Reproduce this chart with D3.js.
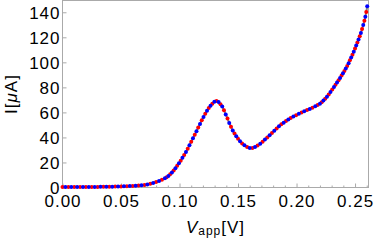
<!DOCTYPE html>
<html>
<head>
<meta charset="utf-8">
<script src="https://cdn.jsdelivr.net/npm/d3@7"></script>
<style>
  body { margin: 0; background: #fff; }
  svg text { font-family: "Liberation Sans", Arial, sans-serif; fill: #000; }
</style>
</head>
<body>
<div id="chart"></div>
<script>
// data: V in volts, I in microamps
const redV = [0, 0.005, 0.01, 0.015, 0.02, 0.025, 0.03, 0.035, 0.04, 0.045,
  0.05, 0.055, 0.06, 0.065, 0.07, 0.075, 0.08, 0.085, 0.089, 0.092,
  0.095, 0.098, 0.101, 0.104, 0.107, 0.110, 0.113, 0.116, 0.119, 0.122,
  0.125, 0.128, 0.1316, 0.135, 0.138, 0.141, 0.144, 0.147, 0.150, 0.1535,
  0.1578, 0.1623, 0.1667, 0.171, 0.175, 0.179, 0.183, 0.187, 0.191, 0.195,
  0.1996, 0.2043, 0.209, 0.2136, 0.218, 0.2215, 0.2245, 0.2275, 0.2305, 0.2333,
  0.2359, 0.2385, 0.2409, 0.2433, 0.2456, 0.2478, 0.25, 0.252, 0.254, 0.256,
  0.258, 0.2596];
const redI = [0.3, 0.3, 0.3, 0.35, 0.4, 0.4, 0.45, 0.5, 0.6, 0.7,
  0.8, 1.0, 1.2, 1.6, 2.0, 3.0, 4.3, 6.2, 8.2, 10.5,
  13.5, 17.3, 21.4, 26.0, 31.0, 36.5, 42.2, 47.9, 53.7, 59.0,
  63.5, 67.0, 69.2, 66.6, 61.8, 55.2, 48.5, 43.2, 39.0, 35.2,
  32.4, 31.6, 33.5, 36.6, 40.0, 43.6, 47.2, 50.5, 53.1, 55.5,
  57.8, 60.0, 61.9, 63.8, 65.9, 68.2, 71.0, 74.4, 78.2, 82.1,
  85.7, 89.4, 93.1, 97.1, 101.6, 106.1, 111.0, 115.8, 120.9, 126.6,
  133.2, 140.3];

const blueV = [0.0025, 0.0075, 0.0125, 0.0175, 0.0225, 0.0275, 0.0325, 0.0375, 0.0425, 0.0475,
  0.0525, 0.0575, 0.0625, 0.0675, 0.0725, 0.0775, 0.0825, 0.0875, 0.0905, 0.0935,
  0.0965, 0.0995, 0.1025, 0.1055, 0.1085, 0.1115, 0.1145, 0.1175, 0.1205, 0.1235,
  0.1265, 0.1298, 0.1334, 0.1365, 0.1395, 0.1425, 0.1455, 0.1485, 0.1517, 0.1555,
  0.160, 0.1645, 0.169, 0.173, 0.177, 0.181, 0.185, 0.189, 0.193, 0.1973,
  0.202, 0.2066, 0.2113, 0.216, 0.220, 0.223, 0.226, 0.229, 0.232, 0.2346,
  0.2372, 0.2397, 0.2421, 0.2445, 0.2467, 0.2489, 0.251, 0.253, 0.255, 0.257,
  0.2588, 0.2604];
const blueI = [0.3, 0.3, 0.35, 0.35, 0.4, 0.45, 0.5, 0.55, 0.65, 0.75,
  0.9, 1.1, 1.4, 1.8, 2.45, 3.6, 5.2, 7.4, 9.2, 12.0,
  15.4, 19.3, 23.7, 28.4, 33.7, 39.3, 45.0, 50.8, 56.4, 61.4,
  65.4, 68.6, 68.4, 64.7, 58.4, 51.6, 45.6, 41.0, 37.0, 33.7,
  31.6, 32.3, 35.0, 38.3, 41.8, 45.4, 49.0, 51.8, 54.3, 56.7,
  58.9, 60.9, 62.8, 64.9, 67.0, 69.5, 72.6, 76.2, 80.2, 83.9,
  87.5, 91.2, 95.1, 99.3, 103.8, 108.5, 113.4, 118.3, 123.5, 129.8,
  136.5, 144.8];

const xTicks = [0, 0.05, 0.10, 0.15, 0.20, 0.25];
const xMinorTicks = [0.01, 0.02, 0.03, 0.04, 0.06, 0.07, 0.08, 0.09, 0.11, 0.12, 0.13, 0.14,
  0.16, 0.17, 0.18, 0.19, 0.21, 0.22, 0.23, 0.24, 0.26];
const yTicks = [0, 20, 40, 60, 80, 100, 120, 140];

const width = 374;
const height = 243;
const plot = { left: 62.5, right: 368.5, top: 0.5, bottom: 187.5 };

const svg = d3.select('#chart')
  .append('svg')
  .attr('width', width)
  .attr('height', height);

const x = d3.scaleLinear().domain([0, 0.2615]).range([plot.left, plot.right]);
const y = d3.scaleLinear().domain([0, 149.4]).range([plot.bottom, plot.top]);

const frameColor = '#aaaaaa';

// frame
svg.append('rect')
  .attr('x', plot.left)
  .attr('y', plot.top)
  .attr('width', plot.right - plot.left)
  .attr('height', plot.bottom - plot.top)
  .attr('fill', 'none')
  .attr('stroke', frameColor)
  .attr('stroke-width', 1);

// bottom axis, ticks point inward
const xAxis = svg.append('g')
  .attr('transform', `translate(0, ${plot.bottom})`)
  .call(d3.axisBottom(x).tickValues(xTicks).tickSize(-4).tickPadding(7.5)
    .tickFormat(d3.format('.2f')));
svg.append('g')
  .attr('transform', `translate(0, ${plot.bottom})`)
  .call(d3.axisBottom(x).tickValues(xMinorTicks).tickSize(-2).tickFormat(''));

const yAxis = svg.append('g')
  .attr('transform', `translate(${plot.left}, 0)`)
  .call(d3.axisLeft(y).tickValues(yTicks).tickSize(-4).tickPadding(2));

svg.selectAll('.domain').remove();
svg.selectAll('.tick line').attr('stroke', frameColor);
svg.selectAll('.tick text')
  .attr('font-family', '"Liberation Sans", Arial, sans-serif')
  .attr('font-size', 17)
  .attr('letter-spacing', 1)
  .attr('fill', '#000');
yAxis.selectAll('.tick text').attr('dy', '0.36em');

// gray line through all points
const allPts = redV.map((v, i) => [v, redI[i]])
  .concat(blueV.map((v, i) => [v, blueI[i]]))
  .sort((a, b) => a[0] - b[0]);

svg.append('path')
  .datum(allPts)
  .attr('fill', 'none')
  .attr('stroke', '#808080')
  .attr('stroke-width', 2)
  .attr('d', d3.line().x(d => x(d[0])).y(d => y(d[1])).curve(d3.curveMonotoneX));

// dots
svg.append('g').selectAll('circle')
  .data(redV.map((v, i) => [v, redI[i]]))
  .enter()
  .append('circle')
  .attr('cx', d => x(d[0]))
  .attr('cy', d => y(d[1]))
  .attr('r', 2)
  .attr('fill', '#ff0000');

svg.append('g').selectAll('circle')
  .data(blueV.map((v, i) => [v, blueI[i]]))
  .enter()
  .append('circle')
  .attr('cx', d => x(d[0]))
  .attr('cy', d => y(d[1]))
  .attr('r', 2)
  .attr('fill', '#0000ff');

// axis labels
const xLabel = svg.append('text')
  .attr('x', (plot.left + plot.right) / 2)
  .attr('y', 233)
  .attr('text-anchor', 'middle')
  .attr('font-size', 17)
  .attr('letter-spacing', 1);
xLabel.append('tspan').attr('font-style', 'italic').text('V');
xLabel.append('tspan').attr('font-size', 12).attr('dy', 2).text('app');
xLabel.append('tspan').attr('dy', -2).text('[V]');

const yLabel = svg.append('text')
  .attr('transform', `translate(17, ${(plot.top + plot.bottom) / 2}) rotate(-90)`)
  .attr('text-anchor', 'middle')
  .attr('font-size', 17)
  .attr('letter-spacing', 1);
yLabel.append('tspan').text('I[');
yLabel.append('tspan').attr('font-style', 'italic').text('μ');
yLabel.append('tspan').text('A]');
</script>
</body>
</html>
